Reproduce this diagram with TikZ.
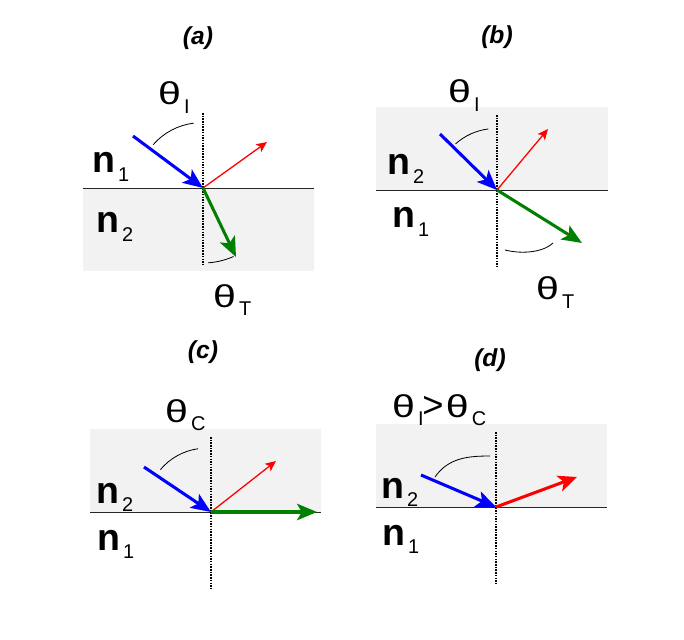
\documentclass[tikz,border=0pt]{standalone}
\usepackage{fontspec}
\setmainfont{Liberation Sans}
\usetikzlibrary{arrows.meta}
\usetikzlibrary{positioning}

\definecolor{mediumgray}{HTML}{F2F2F2}
\definecolor{raygreen}{RGB}{0,128,0}

\newcommand{\quant}[2]{#1\kern2.5pt\raisebox{-7pt}{\fontsize{17}{17}\selectfont\mdseries #2}}
\newcommand{\thet}{\scalebox{1.3}[1]{θ}}

\begin{document}
\begin{tikzpicture}[x=0.03cm,y=0.03cm,
  medium/.style={fill=mediumgray, draw=none},
  surface/.style={draw=black!85, line width=0.8pt},
  normal/.style={densely dotted, line width=1.3pt},
  incident/.style={blue, line width=2.6pt, -{Stealth[length=17pt,width=14pt,inset=4pt]}},
  refracted/.style={raygreen, line width=2.6pt, -{Stealth[length=17pt,width=14pt,inset=4pt]}},
  reflected/.style={red, line width=1.1pt, -{Stealth[length=9pt,width=8pt,inset=2pt]}},
  totalrefl/.style={red, line width=2.6pt, -{Stealth[length=16pt,width=14pt,inset=4pt]}},
  anglearc/.style={draw=black, line width=0.7pt},
  index/.style={anchor=base west, inner sep=0pt, font=\fontsize{32}{32}\selectfont\bfseries},
  angle/.style={anchor=base west, inner sep=0pt, font=\fontsize{27}{27}\selectfont},
  caption/.style={inner sep=0pt, font=\fontsize{21}{21}\selectfont\bfseries\itshape}]
\useasboundingbox (0,0) rectangle (684,639);

% (a) n1 above, n2 below
\fill[medium] (83,368) rectangle (314,451);
\coordinate (hitA) at (203,451);
\coordinate (inA) at (133,503);
\coordinate (reA) at (267,497);
\coordinate (trA) at (236,382);
\draw[surface] (83,451) -- (314,451);
\draw[normal] (203,526) -- (203,374);
\draw[incident] (inA) -- (hitA);
\draw[reflected] (hitA) -- (reA);
\draw[refracted] (hitA) -- (trA);
\draw[anglearc] (hitA) ++(139:66) arc (139:97:64);
\draw[anglearc] (hitA) ++(-86:75) arc (-86:-66:75);
\node[caption] (capA) at (198,601) {(a)};
\node[angle] (thIA) at (158,534) {\quant{\thet}{I}};
\node[index] (n1A) at (92,466) {\quant{n}{1}};
\node[index] (n2A) at (96,406) {\quant{n}{2}};
\node[angle] (thTA) at (213,332) {\quant{\thet}{T}};

% (b) n2 above, n1 below
\fill[medium] (376,449) rectangle (608,532);
\coordinate (hitB) at (497,449);
\coordinate (inB) at (440,505);
\coordinate (reB) at (548,510);
\coordinate (trB) at (582,396);
\draw[surface] (376,449) -- (608,449);
\draw[normal] (497,524) -- (497,372);
\draw[incident] (inB) -- (hitB);
\draw[reflected] (hitB) -- (reB);
\draw[refracted] (hitB) -- (trB);
\draw[anglearc] (hitB) ++(132:62) arc (132:97:60);
\draw[anglearc] (505,389) .. controls (525,384) and (545,388) .. (553,396);
\node[caption] (capB) at (497,602) {(b)};
\node[angle] (thIB) at (448,536) {\quant{\thet}{I}};
\node[index] (n2B) at (387,464) {\quant{n}{2}};
\node[index] (n1B) at (392,411) {\quant{n}{1}};
\node[angle] (thTB) at (536,339) {\quant{\thet}{T}};

% (c) critical angle
\fill[medium] (90,127) rectangle (321,210);
\coordinate (hitC) at (211,127);
\coordinate (inC) at (144,172);
\coordinate (reC) at (276,178);
\coordinate (trC) at (317,127);
\draw[surface] (90,127) -- (321,127);
\draw[normal] (211,202) -- (211,51);
\draw[incident] (inC) -- (hitC);
\draw[reflected] (hitC) -- (reC);
\draw[refracted] (hitC) -- (trC);
\draw[anglearc] (hitC) ++(140:66) arc (140:98:60);
\node[caption] (capC) at (203,287) {(c)};
\node[angle] (thC) at (165,217) {\quant{\thet}{C}};
\node[index] (n2C) at (96,136) {\quant{n}{2}};
\node[index] (n1C) at (97,89) {\quant{n}{1}};

% (d) total internal reflection
\fill[medium] (376,132) rectangle (607,215);
\coordinate (hitD) at (496,132);
\coordinate (inD) at (421,164);
\coordinate (reD) at (577,162);
\draw[surface] (376,132) -- (607,132);
\draw[normal] (496,207) -- (496,56);
\draw[incident] (inD) -- (hitD);
\draw[totalrefl] (hitD) -- (reD);
\draw[anglearc] (435,162) to[out=55,in=180] (490,183);
\node[caption] (capD) at (490,279) {(d)};
\node[angle] (thD) at (392,222) {\quant{\thet}{I}\kern-1pt{\fontsize{31}{31}\selectfont>}\kern2pt\quant{\thet}{C}};
\node[index] (n2D) at (381,141) {\quant{n}{2}};
\node[index] (n1D) at (382,94) {\quant{n}{1}};
\end{tikzpicture}
\end{document}
